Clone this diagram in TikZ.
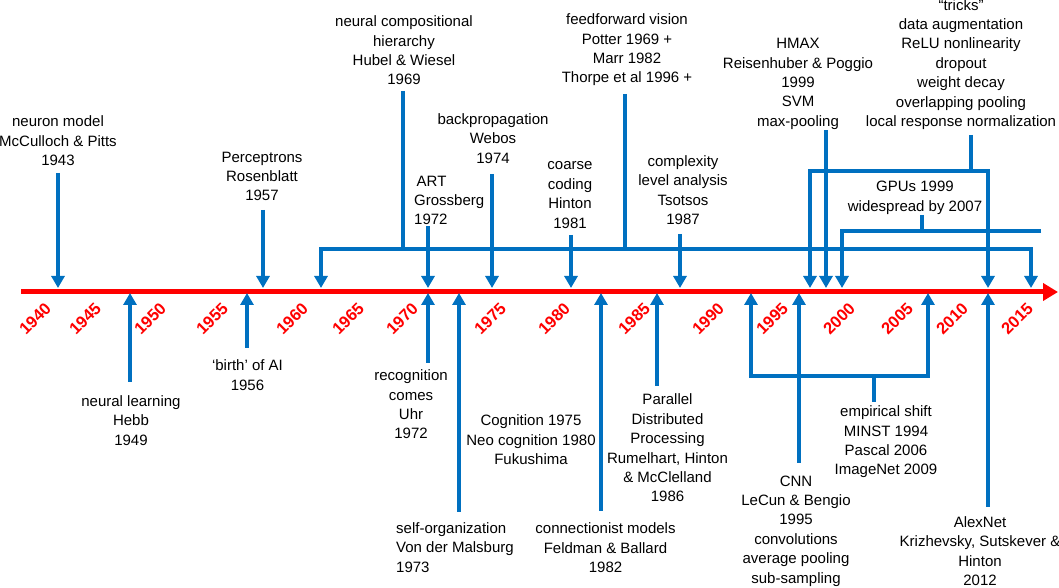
\documentclass[tikz,border=0pt]{standalone}
\usepackage{fontspec}
\usepackage{graphicx}
\setmainfont{Liberation Sans}
\usetikzlibrary{arrows.meta}
\definecolor{tlblue}{RGB}{0,112,192}
\definecolor{tlred}{RGB}{255,0,0}
\begin{document}
\begin{tikzpicture}[x=1pt,y=1pt,
  lbl/.style={inner sep=0pt, align=center, font=\fontsize{15}{19.4}\selectfont},
  lbll/.style={lbl, align=left, anchor=west},
  yr/.style={inner sep=0pt, anchor=north east, text=tlred, font=\fontsize{16.5}{18}\selectfont\bfseries},
  conn/.style={draw=tlblue, line width=4pt},
  arr/.style={conn, -{Triangle[length=12pt,width=13pt]}},
  arrb/.style={conn, {Triangle[length=12pt,width=13pt]}-{Triangle[length=12pt,width=13pt]}},
  axisline/.style={draw=tlred, line width=5pt, -{Triangle[length=15pt,width=17pt]}}
]
\useasboundingbox (0,0) rectangle (1059,588);

% axis
\coordinate (ax0) at (21,296);
\coordinate (ax1) at (1058,296);
\draw[axisline] (ax0) -- (ax1);

% year labels
\foreach \yy/\xx in {1940/52.5,1945/102.5,1950/167.5,1955/229.5,1960/309.5,1965/365.5,1970/419.5,1975/507.5,1980/571.5,1985/651.5,1990/725.5,1995/789.5,2000/856.5,2005/914.5,2010/969.5,2015/1034.5}
  \node[yr] (y\yy) at (\xx,286.5) {\rotatebox{45}{\yy}};

% ---------- labels above ----------
\node[lbl] (mcp) at (58,447) {neuron model\\McCulloch \& Pitts\\1943};
\node[lbl] (ros) at (262,411.5) {Perceptrons\\Rosenblatt\\1957};
\node[lbl] (hub) at (404,537.5) {neural compositional\\hierarchy\\Hubel \& Wiesel\\1969};
\node[lbll] (art) at (414,387.5) {\,ART\\Grossberg\\1972};
\node[lbl] (bp) at (493,449.5) {backpropagation\\Webos\\1974};
\node[lbl] (cc) at (570,393) {coarse\\coding\\Hinton\\1981};
\node[lbl] (ffv) at (627,538) {feedforward vision\\Potter 1969 +\\Marr 1982\\Thorpe et al 1996 +};
\node[lbl] (tso) at (683,398) {complexity\\level analysis\\Tsotsos\\1987};
\node[lbl] (hmax) at (798,504) {HMAX\\Reisenhuber \& Poggio\\1999\\SVM\\max-pooling};
\node[lbl] (trk) at (961,523.5) {“tricks”\\data augmentation\\ReLU nonlinearity\\dropout\\weight decay\\overlapping pooling\\local response normalization};
\node[lbl] (gpu) at (915,390) {GPUs 1999\\widespread by 2007};

% ---------- labels below ----------
\node[lbl] (hebb) at (131,167.5) {neural learning\\Hebb\\1949};
\node[lbl] (ai) at (247.5,213) {‘birth’ of AI\\1956};
\node[lbl] (uhr) at (411,183.5) {recognition\\comes\\Uhr\\1972};
\node[lbll] (mal) at (396,40.5) {self-organization\\Von der Malsburg\\1973};
\node[lbl] (fuk) at (531,148) {Cognition 1975\\Neo cognition 1980\\Fukushima};
\node[lbl] (fel) at (605.5,40) {connectionist models\\Feldman \& Ballard\\1982};
\node[lbl] (pdp) at (667.5,140) {Parallel\\Distributed\\Processing\\Rumelhart, Hinton\\\& McClelland\\1986};
\node[lbl] (emp) at (886,146) {empirical shift\\MINST 1994\\Pascal 2006\\ImageNet 2009};
\node[lbl] (cnn) at (796,57) {CNN\\LeCun \& Bengio\\1995\\convolutions\\average pooling\\sub-sampling};
\node[lbl] (alx) at (980,37) {AlexNet\\Krizhevsky, Sutskever \&\\Hinton\\2012};

% ---------- connector coordinates ----------
% single down arrows
\coordinate (mcpA) at (58,415);   \coordinate (mcpB) at (58,300);
\coordinate (rosA) at (263,378);  \coordinate (rosB) at (263,300);
\coordinate (artA) at (428,362);  \coordinate (artB) at (428,300);
\coordinate (bpA) at (492,414);   \coordinate (bpB) at (492,300);
\coordinate (ccA) at (571,353);   \coordinate (ccB) at (571,300);
\coordinate (tsoA) at (680,354);  \coordinate (tsoB) at (680,300);
\coordinate (hmaxA) at (826,458); \coordinate (hmaxB) at (826,300);
% big bracket
\coordinate (bkL) at (321,300);  \coordinate (bkLc) at (321,339);
\coordinate (bkR) at (1031,300); \coordinate (bkRc) at (1031,339);
\coordinate (hubA) at (403,497); \coordinate (hubB) at (403,339);
\coordinate (ffvA) at (625,494); \coordinate (ffvB) at (625,339);
% tricks bracket
\coordinate (trL) at (810,300);  \coordinate (trLc) at (810,417);
\coordinate (trR) at (988,300);  \coordinate (trRc) at (988,417);
\coordinate (trkA) at (971,453); \coordinate (trkB) at (971,417);
% GPU
\coordinate (gpuE) at (1041,357); \coordinate (gpuC) at (842,357); \coordinate (gpuT) at (842,300);
\coordinate (gpuA) at (922,373);  \coordinate (gpuB) at (922,357);
% up arrows
\coordinate (hebbA) at (130,206); \coordinate (hebbB) at (130,295);
\coordinate (aiA) at (247,240);   \coordinate (aiB) at (247,295);
\coordinate (uhrA) at (428,225);  \coordinate (uhrB) at (428,295);
\coordinate (malA) at (459,76);   \coordinate (malB) at (459,295);
\coordinate (felA) at (601,77);   \coordinate (felB) at (601,295);
\coordinate (pdpA) at (657,202);  \coordinate (pdpB) at (657,295);
\coordinate (cnnA) at (799,125);  \coordinate (cnnB) at (799,295);
\coordinate (alxA) at (988,81);   \coordinate (alxB) at (988,295);
% empirical bracket
\coordinate (emL) at (751,295); \coordinate (emLc) at (751,212);
\coordinate (emR) at (928,295); \coordinate (emRc) at (928,212);
\coordinate (empA) at (874,186); \coordinate (empB) at (874,212);

% ---------- connectors ----------
\foreach \n in {mcp,ros,art,bp,cc,tso,hmax,hebb,ai,uhr,mal,fel,pdp,cnn,alx}
  \draw[arr] (\n A) -- (\n B);
\draw[arrb] (bkL) -- (bkLc) -- (bkRc) -- (bkR);
\draw[conn] (hubA) -- (hubB);
\draw[conn] (ffvA) -- (ffvB);
\draw[arrb] (trL) -- (trLc) -- (trRc) -- (trR);
\draw[conn] (trkA) -- (trkB);
\draw[arr] (gpuE) -- (gpuC) -- (gpuT);
\draw[conn] (gpuA) -- (gpuB);
\draw[arrb] (emL) -- (emLc) -- (emRc) -- (emR);
\draw[conn] (empA) -- (empB);
\end{tikzpicture}
\end{document}
